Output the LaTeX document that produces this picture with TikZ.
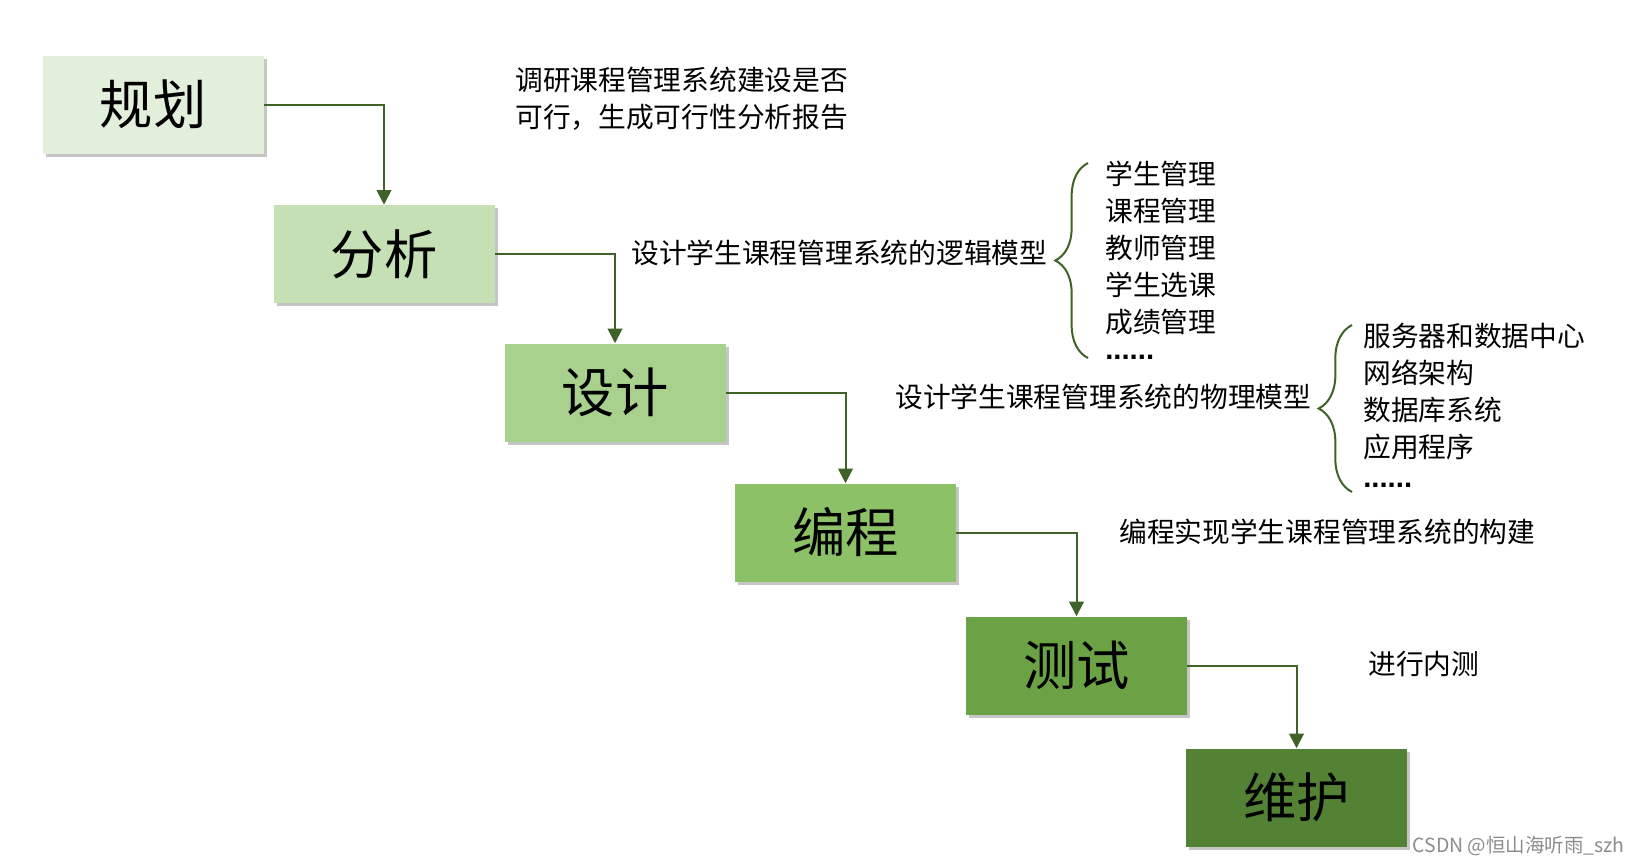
\documentclass[tikz,border=0pt]{standalone}
\usepackage{fontspec}
\setmainfont{Noto Sans CJK SC}
\newfontfamily\dotsfont{Liberation Sans}
\usetikzlibrary{arrows.meta,shadows,decorations.pathreplacing}
\definecolor{c1}{HTML}{E2EFDA}
\definecolor{c2}{HTML}{C5E0B4}
\definecolor{c3}{HTML}{A9D18E}
\definecolor{c4}{HTML}{8CC168}
\definecolor{c5}{HTML}{6BA246}
\definecolor{c6}{HTML}{548235}
\definecolor{lk}{HTML}{3F6229}
\tikzset{
  stagebox/.style={rectangle, inner sep=0pt, minimum width=165.75pt, minimum height=73.5pt,
    font=\fontsize{40}{44}\selectfont,
    drop shadow={shadow xshift=2.5pt, shadow yshift=-2.5pt, fill=black!45, opacity=0.5}},
  flow/.style={draw=lk, line width=1.5pt, -{Triangle[width=11pt,length=11pt]}},
  note/.style={inner sep=0pt, anchor=west, align=left, font=\fontsize{20.8}{27.5}\selectfont},
  dotsnote/.style={inner sep=0pt, anchor=base west, font=\dotsfont\bfseries\fontsize{22}{24}\selectfont},
  bracefig/.style={draw=lk, line width=1.5pt, decorate, decoration={brace, amplitude=#1}},
}
\begin{document}
\begin{tikzpicture}[x=0.75pt, y=-0.75pt]
\useasboundingbox (0,0) rectangle (1638,865);
\node[stagebox, fill=c1] (s1) at (153,104.5) {规划};
\node[stagebox, fill=c2] (s2) at (384,254) {分析};
\node[stagebox, fill=c3] (s3) at (615,392.5) {设计};
\node[stagebox, fill=c4] (s4) at (845.5,532.5) {编程};
\node[stagebox, fill=c5] (s5) at (1076.5,665.5) {测试};
\node[stagebox, fill=c6] (s6) at (1296.5,797.5) {维护};

\draw[flow] (s1.east) -| (s2.north);
\draw[flow] (s2.east) -| (s3.north);
\draw[flow] (s3.east) -| (s4.north);
\draw[flow] (s4.east) -| (s5.north);
\draw[flow] (s5.east) -| (s6.north);

\node[note] (t1) at (515,99) {调研课程管理系统建设是否\\可行，生成可行性分析报告};
\node[note] (t2) at (631,253) {设计学生课程管理系统的逻辑模型};
\node[note] (t3) at (895,397) {设计学生课程管理系统的物理模型};
\node[note] (t4) at (1119,532) {编程实现学生课程管理系统的构建};
\node[note] (t5) at (1368,664) {进行内测};

\coordinate (b1t) at (1088,163);
\coordinate (b1b) at (1088,358);
\coordinate (b2t) at (1352,325);
\coordinate (b2b) at (1352,492);
\draw[bracefig=24.5pt] (b1b) -- (b1t);
\draw[bracefig=25pt] (b2b) -- (b2t);

\node[note, font=\fontsize{20.8}{27.75}\selectfont] (l1) at (1105,247.5) {学生管理\\课程管理\\教师管理\\学生选课\\成绩管理};
\node[dotsnote] (l1d) at (1105,359) {......};
\node[note, font=\fontsize{20.8}{27.75}\selectfont] (l2) at (1363,392) {服务器和数据中心\\网络架构\\数据库系统\\应用程序};
\node[dotsnote] (l2d) at (1363,487) {......};

\node[inner sep=0pt, anchor=east, text=black!45, font=\fontsize{14.6}{16}\selectfont] (wm) at (1625,846) {CSDN @恒山海听雨\_szh};
\end{tikzpicture}
\end{document}
